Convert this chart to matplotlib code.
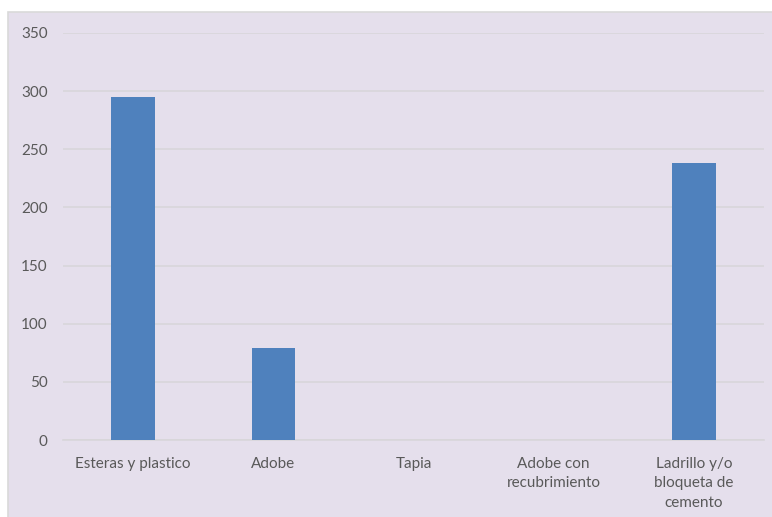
import matplotlib.pyplot as plt
from matplotlib.patches import Rectangle

# material de paredes: conteo de viviendas
categorias = ['Esteras y plastico', 'Adobe', 'Tapia', 'Adobe con\nrecubrimiento',
              'Ladrillo y/o\nbloqueta de\ncemento']
valores = [295, 79, 0, 0, 238]
yticks = [0, 50, 100, 150, 200, 250, 300, 350]

fondo = '#E5DFEC'
texto = '#595959'

plt.rcParams['font.family'] = ['Lato', 'DejaVu Sans']

fig = plt.figure(figsize=(7.72, 5.17), dpi=100, facecolor='white')
# panel de fondo con borde gris, detras de los ejes
fig.add_artist(Rectangle((8 / 772, -0.01), 1.0, 1 - 12 / 517 + 0.01,
                         transform=fig.transFigure, facecolor=fondo,
                         edgecolor='#D9D9D9', linewidth=1.2, zorder=-10))

ax = fig.add_axes([63 / 772, 1 - 440 / 517, (764 - 63) / 772, (440 - 33) / 517])
ax.set_facecolor('none')

x = range(len(categorias))
ax.bar(x, valores, width=0.31, color='#4F81BD', zorder=3)

ax.set_xlim(-0.5, len(categorias) - 0.5)
ax.set_ylim(0, 350)
ax.set_yticks(yticks)
ax.set_xticks(list(x))
ax.set_xticklabels(categorias, linespacing=1.5)

ax.grid(axis='y', color='#D8D6DA', linewidth=1.2, zorder=0)
for s in ['top', 'right', 'left']:
    ax.spines[s].set_visible(False)
ax.spines['bottom'].set_color('#D8D6DA')
ax.spines['bottom'].set_linewidth(1.2)

ax.tick_params(axis='both', length=0, colors=texto, labelsize=11)
ax.tick_params(axis='y', pad=11)
ax.tick_params(axis='x', pad=12)

fig.savefig('out.png', dpi=100, facecolor='white')
